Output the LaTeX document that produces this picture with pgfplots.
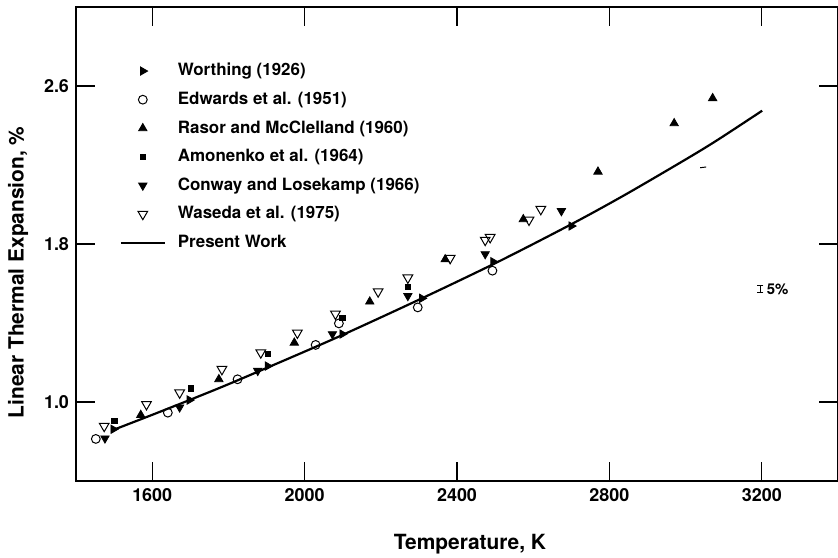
\documentclass[border=0pt]{standalone}
\usepackage{fontspec}
\setmainfont{TeX Gyre Heros}
\usepackage{pgfplots}
\pgfplotsset{compat=1.18}
\begin{document}
\begin{tikzpicture}
\begin{axis}[
  scale only axis, width=381bp, height=237bp,
  xmin=1400, xmax=3400, ymin=0.6, ymax=3.0,
  xtick={1600,2000,2400,2800,3200}, ytick={1.0,1.8,2.6},
  tick pos=both,
  /pgf/number format/assume math mode=true,
  yticklabel style={/pgf/number format/.cd, fixed, fixed zerofill, precision=1},
  xticklabel style={/pgf/number format/1000 sep={}},
  tick label style={font=\fontsize{9}{10}\selectfont\bfseries},
  tick align=inside, major tick length=9.5bp,
  every tick/.style={black, line width=0.6bp},
  axis line style={line width=0.8bp},
  xlabel={Temperature, K}, ylabel={Linear Thermal Expansion, \%},
  label style={font=\fontsize{10.5}{12}\selectfont\bfseries},
  xlabel style={at={(axis description cs:0.517,-0.133)}, anchor=center},
  ylabel style={at={(axis description cs:-0.076,0.44)}, anchor=center},
  legend style={at={(axis description cs:0.049,0.899)}, anchor=north west, draw=none, fill=none,
    font=\fontsize{8.5}{10}\selectfont\bfseries, row sep=2.6bp,
    /tikz/every odd column/.append style={column sep=4bp}},
  legend cell align=left,
  clip=false,
]
\addplot[only marks, mark=triangle*, mark size=2.4bp, mark options={rotate=-90, fill=black}] coordinates {
 (1498,0.862) (1698,1.010) (1903,1.182) (2099,1.344) (2308,1.525) (2495,1.710) (2700,1.891)};
\addlegendentry{Worthing (1926)}
\addplot[only marks, mark=o, mark size=2.2bp, mark options={line width=0.5bp}] coordinates {
 (1452,0.813) (1641,0.946) (1824,1.115) (2029,1.289) (2090,1.398) (2297,1.479) (2493,1.665)};
\addlegendentry{Edwards et al. (1951)}
\addplot[only marks, mark=triangle*, mark size=2.4bp, mark options={fill=black}] coordinates {
 (1570,0.934) (1775,1.115) (1973,1.300) (2171,1.508) (2369,1.722) (2574,1.925) (2770,2.166) (2970,2.411) (3071,2.538)};
\addlegendentry{Rasor and McClelland (1960)}
\addplot[only marks, mark=square*, mark size=1.3bp, mark options={fill=black}] coordinates {
 (1501,0.905) (1701,1.069) (1903,1.242) (2099,1.424) (2271,1.584)};
\addlegendentry{Amonenko et al. (1964)}
\addplot[only marks, mark=triangle*, mark size=2.4bp, mark options={rotate=180, fill=black}] coordinates {
 (1476,0.816) (1672,0.973) (1877,1.158) (2073,1.344) (2271,1.537) (2474,1.749) (2674,1.967)};
\addlegendentry{Conway and Losekamp (1966)}
\addplot[only marks, mark=triangle, mark size=2.8bp, mark options={rotate=180, line width=0.5bp}] coordinates {
 (1474,0.878) (1585,0.988) (1672,1.047) (1783,1.166) (1885,1.250) (1981,1.350) (2081,1.446) (2193,1.559)
 (2271,1.629) (2382,1.728) (2474,1.820) (2487,1.834) (2589,1.922) (2620,1.976)};
\addlegendentry{Waseda et al. (1975)}
\addplot[black, line width=1.1bp, mark=none, smooth,
  legend image code/.code={\draw[black, line width=1.1bp] ({0.3cm-11bp},0) -- ({0.3cm+11bp},0);}] coordinates {
 (1497,0.858) (1600,0.935) (1698,1.010) (1800,1.090) (1959,1.221) (2100,1.340) (2308,1.525)
 (2508,1.710) (2700,1.900) (2840,2.048) (3000,2.228) (3084,2.327) (3201,2.475)};
\addlegendentry{Present Work}
% 5% bar
\addplot[black, line width=0.5bp, mark=-, mark size=1.6bp, mark options={solid, line width=0.5bp}, forget plot]
  coordinates {(3196,1.552) (3196,1.592)};
\node[anchor=west, font=\fontsize{7.5}{9}\selectfont\bfseries, inner sep=0pt] at (axis cs:3212,1.572) {5\%};
% scan artifact
\addplot[black, line width=0.5bp, forget plot] coordinates {(3038,2.186) (3054,2.19)};
\coordinate (sw) at (rel axis cs:0,0);
\coordinate (ne) at (rel axis cs:1,1);
\end{axis}
\pgfresetboundingbox
\path ([shift={(-38bp,-38.5bp)}]sw) rectangle ([shift={(0bp,3.5bp)}]ne);
\end{tikzpicture}
\end{document}
